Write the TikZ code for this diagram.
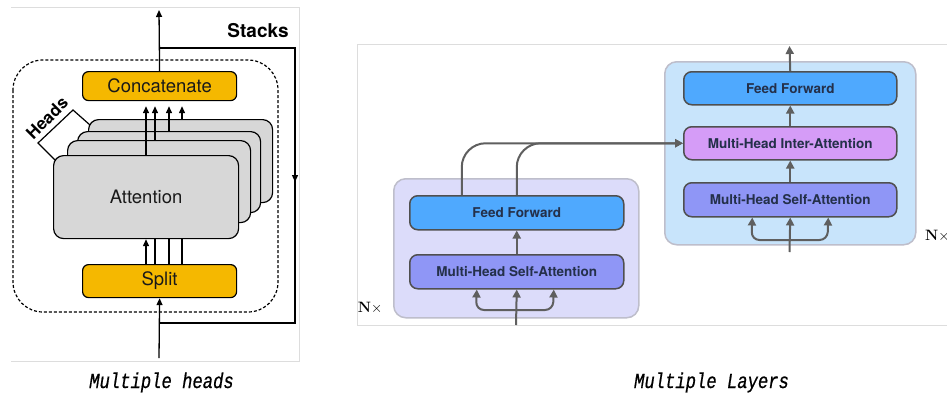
\documentclass[tikz,border=0pt]{standalone}
\usepackage[no-math]{fontspec}
\setmainfont{TeX Gyre Heros}
\newfontfamily\capfont[FakeStretch=0.8,FakeBold=0.6]{Liberation Mono}
\newfontfamily\lmfont{Latin Modern Roman}
\usetikzlibrary{arrows.meta}
\definecolor{orangebox}{HTML}{F5B800}
\definecolor{attgray}{HTML}{D7D7D7}
\definecolor{ffblue}{HTML}{4FA9FE}
\definecolor{mhsacol}{HTML}{8F96F6}
\definecolor{intercol}{HTML}{D59CF7}
\definecolor{encbg}{HTML}{DCDCFA}
\definecolor{decbg}{HTML}{C8E4FB}
\definecolor{conncol}{HTML}{5F5F5F}
\definecolor{boxline}{HTML}{4F4F4F}
\definecolor{boxtext}{HTML}{24304A}
\definecolor{panelline}{HTML}{DDDDDD}
\definecolor{bgline}{HTML}{BEBECB}
\tikzset{
  obox/.style={draw=black, line width=1.2pt, fill=orangebox, rounded corners=6pt, inner sep=0pt, anchor=north west,
    font=\fontsize{18.5}{20}\selectfont, text=black!90},
  attbox/.style={draw=black, line width=1.2pt, fill=attgray, rounded corners=10pt, inner sep=0pt, anchor=north west,
    font=\fontsize{18.5}{20}\selectfont, text=black!90},
  larrow/.style={line width=1.3pt, -{Triangle[length=7pt,width=6pt]}},
  lline/.style={line width=1.3pt},
  bgbox/.style={draw=bgline, line width=1.5pt, rounded corners=12pt, inner sep=0pt, anchor=north west},
  rbox/.style={draw=boxline, line width=1.5pt, rounded corners=8pt, inner sep=0pt, anchor=north west,
    font=\bfseries\fontsize{13.5}{15}\selectfont, text=boxtext},
  rarrow/.style={draw=conncol, line width=2pt, -{Triangle[length=8pt,width=8pt]}},
  rtwo/.style={draw=conncol, line width=2pt, {Triangle[length=8pt,width=8pt]}-{Triangle[length=8pt,width=8pt]}, rounded corners=8pt},
  frame/.style={draw=panelline, line width=1pt},
  nxtext/.style={font=\lmfont\fontsize{15}{16}\selectfont, inner sep=0pt},
  captext/.style={font=\capfont\itshape\fontsize{21.5}{22}\selectfont, anchor=base, inner sep=0pt},
}
\begin{document}
\begin{tikzpicture}[x=1pt,y=-1pt]
\fill[white] (0,0) rectangle (947,394);
\useasboundingbox (0,0) rectangle (947,394);

% ---------------- Left panel: multiple heads ----------------
\draw[frame] (11,7) -- (299,7) -- (299,361) -- (11,361);
\draw[line width=1.2pt, dash pattern=on 3pt off 2pt, rounded corners=30pt] (13,60) rectangle (278,312);

\node[attbox, minimum width=184pt, minimum height=83pt] (att4) at (88,119) {};
\node[attbox, minimum width=183pt, minimum height=81pt] (att3) at (77,131) {};
\node[attbox, minimum width=183pt, minimum height=82pt] (att2) at (67,140) {};
\node[attbox, minimum width=185pt, minimum height=83pt] (att1) at (53,155) {Attention};

\node[obox, minimum width=154pt, minimum height=29pt] (concat) at (82,71) {Concatenate};
\node[obox, minimum width=154pt, minimum height=33pt] (split) at (82,264) {Split};

% heads arrows into Concatenate
\draw[larrow] ([xshift=93pt]att1.north west) -- ([xshift=64pt,yshift=-5pt]concat.south west);
\draw[larrow] ([xshift=88pt]att2.north west) -- ([xshift=73pt,yshift=-5pt]concat.south west);
\draw[larrow] ([xshift=92pt]att3.north west) -- ([xshift=87pt,yshift=-5pt]concat.south west);
\draw[larrow] ([xshift=94pt]att4.north west) -- ([xshift=100pt,yshift=-5pt]concat.south west);

% split to heads
\draw[larrow] ([xshift=64pt]split.north west) -- ([xshift=93pt]att1.south west);
\draw[lline] ([xshift=73pt]split.north west) -- ([xshift=102pt]att1.south west);
\draw[lline] ([xshift=87pt]split.north west) -- ([xshift=116pt]att1.south west);
\draw[lline] ([xshift=100pt]split.north west) -- ([xshift=129pt]att1.south west);

% Heads bracket and label
\coordinate (hb1) at (55,160);
\coordinate (hb2) at (38,143);
\coordinate (hb3) at (73,110);
\coordinate (hb4) at (90,125);
\draw[line width=1.2pt] (hb1) -- (hb2) -- (hb3) -- (hb4);
\node[rotate=45, font=\bfseries\fontsize{17}{18}\selectfont, inner sep=0pt] (headslbl) at (47,118) {Heads};

% output and stack loop
\coordinate (topend) at (159,10);
\draw[larrow] (concat.north) -- (topend);
\coordinate (lp1) at (159,48);
\coordinate (lp2) at (295,48);
\coordinate (lp3) at (295,323);
\coordinate (lp4) at (159,323);
\coordinate (lpm) at (295,182);
\draw[lline] (lp1) -- (lp2) -- (lp3) -- (lp4);
\draw[larrow] (lp2) -- (lpm);
\coordinate (botin) at (159,358);
\draw[larrow] (botin) -- (split.south);
\node[font=\bfseries\fontsize{19}{20}\selectfont, inner sep=0pt] (stacks) at (258,31) {Stacks};

% ---------------- Right panel: multiple layers ----------------
\draw[frame] (947,44) -- (357,44) -- (357,325) -- (947,325);

% encoder
\node[bgbox, fill=encbg, minimum width=245pt, minimum height=139pt] (enc) at (393,178) {};
\node[rbox, fill=ffblue, minimum width=214pt, minimum height=34pt] (ff1) at (409,195) {Feed Forward};
\node[rbox, fill=mhsacol, minimum width=214pt, minimum height=34pt] (mh1) at (409,254) {Multi-Head Self-Attention};
\draw[rarrow] (mh1.north) -- (ff1.south);
\coordinate (in1) at (516,325);
\coordinate (b1l) at (476,310);
\coordinate (b1r) at (553,310);
\draw[rarrow] (in1) -- (mh1.south);
\draw[rtwo] ([xshift=-40pt]mh1.south) -- (b1l) -- (b1r) -- ([xshift=37pt]mh1.south);
\node[nxtext] (nx1) at (370,308) {\textbf{N}$\times$};

% decoder
\node[bgbox, fill=decbg, minimum width=251pt, minimum height=183pt] (dec) at (664,61) {};
\node[rbox, fill=ffblue, minimum width=213pt, minimum height=33pt] (ff2) at (683,71) {Feed Forward};
\node[rbox, fill=intercol, minimum width=213pt, minimum height=33pt] (inter) at (683,126) {Multi-Head Inter-Attention};
\node[rbox, fill=mhsacol, minimum width=213pt, minimum height=34pt] (mh2) at (683,182) {Multi-Head Self-Attention};
\draw[rarrow] (mh2.north) -- (inter.south);
\draw[rarrow] (inter.north) -- (ff2.south);
\coordinate (out2) at (789.5,46);
\draw[rarrow] (ff2.north) -- (out2);
\coordinate (in2) at (789.5,252);
\coordinate (b2l) at (751.5,240);
\coordinate (b2r) at (827.5,240);
\draw[rarrow] (in2) -- (mh2.south);
\draw[rtwo] ([xshift=-38pt]mh2.south) -- (b2l) -- (b2r) -- ([xshift=38pt]mh2.south);
\node[nxtext, anchor=west] (nx2) at (925,236) {\textbf{N}$\times$};

% encoder output to inter-attention
\draw[rarrow, rounded corners=24pt] ([xshift=-55pt]ff1.north) |- (inter.west);
\draw[rarrow, rounded corners=24pt] (ff1.north) |- (inter.west);

% captions
\node[captext] (cap1) at (161.5,388) {Multiple heads};
\node[captext] (cap2) at (711.5,388) {Multiple Layers};
\end{tikzpicture}
\end{document}
